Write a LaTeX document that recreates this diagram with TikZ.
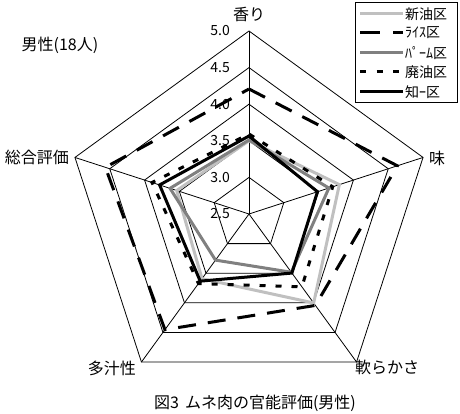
\documentclass[tikz,border=0pt]{standalone}
\usepackage{fontspec}
\setmainfont{Noto Sans CJK JP}
\usepackage{tikz}

\definecolor{newoil}{HTML}{C0C0C0}
\definecolor{palmoil}{HTML}{808080}

\begin{document}
\begin{tikzpicture}[x=1pt, y=1pt,
GridLine/.style={draw, line width=0.8pt},
Series/.style={line width=3pt},
AxisLabel/.style={font=\fontsize{16}{16}\selectfont, inner sep=0pt},
TickLabel/.style={font=\fontsize{14}{14}\selectfont, anchor=east, inner sep=0pt},
KeyLabel/.style={font=\fontsize{14}{14}\selectfont, anchor=west, inner sep=0pt}]

\useasboundingbox (-249,-200) rectangle (211,214);

% grid
\draw[GridLine] (90:36.6) -- (18:36.6) -- (-54:36.6) -- (-126:36.6) -- (162:36.6) -- cycle;
\draw[GridLine] (90:73.2) -- (18:73.2) -- (-54:73.2) -- (-126:73.2) -- (162:73.2) -- cycle;
\draw[GridLine] (90:109.8) -- (18:109.8) -- (-54:109.8) -- (-126:109.8) -- (162:109.8) -- cycle;
\draw[GridLine] (90:146.4) -- (18:146.4) -- (-54:146.4) -- (-126:146.4) -- (162:146.4) -- cycle;
\draw[GridLine] (90:183) -- (18:183) -- (-54:183) -- (-126:183) -- (162:183) -- cycle;
\draw[GridLine] (0,0) -- (90:183);
\draw[GridLine] (0,0) -- (18:183);
\draw[GridLine] (0,0) -- (-54:183);
\draw[GridLine] (0,0) -- (-126:183);
\draw[GridLine] (0,0) -- (162:183);

\node[TickLabel] (t50) at (-19,183) {5.0};
\node[TickLabel] (t45) at (-19,146.4) {4.5};
\node[TickLabel] (t40) at (-19,109.8) {4.0};
\node[TickLabel] (t35) at (-19,73.2) {3.5};
\node[TickLabel] (t30) at (-19,36.6) {3.0};
\node[TickLabel] (t25) at (-19,0) {2.5};

\node[AxisLabel] (aroma) at (0,200) {香り};
\node[AxisLabel] (taste) at (188,56) {味};
\node[AxisLabel] (soft) at (138,-153) {軟らかさ};
\node[AxisLabel] (juicy) at (-137,-154) {多汁性};
\node[AxisLabel] (total) at (-212,57) {総合評価};
\node[AxisLabel] (panel) at (-189,169) {男性(18人)};
\node[AxisLabel] (caption) at (6,-189) {図3\hspace{6pt}ムネ肉の官能評価(男性)};

% series
\draw[Series, newoil] (90:73.2) -- (18:95) -- (-54:110) -- (-126:80) -- (162:76) -- cycle;
\draw[Series, dash pattern=on 18pt off 12pt] (90:125) -- (18:156) -- (-54:113) -- (-126:143) -- (162:151) -- cycle;
\draw[Series, palmoil] (90:74) -- (18:84) -- (-54:72) -- (-126:57) -- (162:83) -- cycle;
\draw[Series, dash pattern=on 6pt off 10pt] (90:80) -- (18:88) -- (-54:90) -- (-126:86) -- (162:102) -- cycle;
\draw[Series] (90:78) -- (18:72) -- (-54:73) -- (-126:83) -- (162:94) -- cycle;

% legend
\draw[GridLine, fill=white] (106,212) rectangle (208,112);
\node[KeyLabel] (k1) at (156,200) {新油区};
\node[KeyLabel] (k2) at (156,181) {ﾗｲｽ区};
\node[KeyLabel] (k3) at (156,161) {ﾊﾟｰﾑ区};
\node[KeyLabel] (k4) at (156,142) {廃油区};
\node[KeyLabel] (k5) at (156,122) {知ｰ区};
\draw[Series, newoil] (111,200) -- (154,200);
\draw[Series, dash pattern=on 20pt off 13pt] (111,181) -- (154,181);
\draw[Series, palmoil] (111,161) -- (154,161);
\draw[Series, dash pattern=on 6pt off 10.5pt] (111,142) -- (154,142);
\draw[Series] (111,122) -- (154,122);

\end{tikzpicture}
\end{document}
